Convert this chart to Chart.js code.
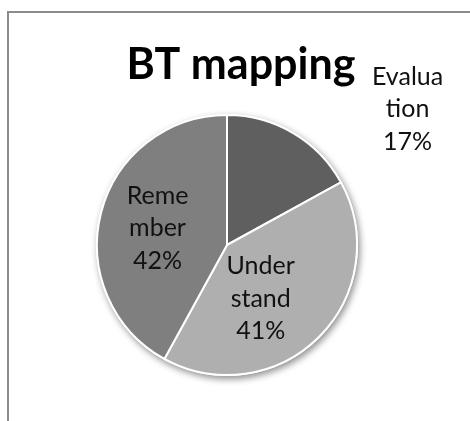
<!DOCTYPE html>
<html>
<head>
<meta charset="utf-8">
<script src="https://cdn.jsdelivr.net/npm/chart.js@4.4.1/dist/chart.umd.min.js"></script>
<style>
  html, body { margin: 0; padding: 0; background: #fff; }
  #wrap { position: relative; width: 470px; height: 421px; }
</style>
</head>
<body>
<div id="wrap"><canvas id="btChart" width="470" height="421"></canvas></div>
<script>
// data
const categories = ['Evaluation', 'Understand', 'Remember'];
const labelLines = [['Evalua', 'tion'], ['Under', 'stand'], ['Reme', 'mber']];
const shares = [17, 41, 42];
const sliceColors = ['#5f5f5f', '#afafaf', '#7f7f7f'];
const chartTitle = 'BT mapping';

// where each label sits: angle from 12 o'clock (deg) and distance as a share of the radius
const labelPlace = [
    { angle: 53.1, dist: 1.737 },
    { angle: 147.8, dist: 0.487 },
    { angle: 283.7, dist: 0.55 }
];

const framePlugin = {
    id: 'frame',
    beforeDraw(chart) {
        const c = chart.ctx;
        c.save();
        c.strokeStyle = '#8c8c8c';
        c.lineWidth = 2;
        c.beginPath();
        c.moveTo(8, 421);
        c.lineTo(8, 12);
        c.lineTo(470, 12);
        c.stroke();
        // title
        c.fillStyle = '#000';
        c.font = 'bold 43px Lato, "Open Sans", sans-serif';
        c.textAlign = 'center';
        c.textBaseline = 'alphabetic';
        c.fillText(chartTitle, 241, 79);
        c.restore();
    },
    beforeDatasetsDraw(chart) {
        // soft shadow under the pie
        const arc = chart.getDatasetMeta(0).data[0];
        if (!arc) return;
        const c = chart.ctx;
        c.save();
        c.shadowColor = 'rgba(0,0,0,0.45)';
        c.shadowBlur = 7;
        c.shadowOffsetX = 2;
        c.shadowOffsetY = 3;
        c.fillStyle = '#ffffff';
        c.beginPath();
        c.arc(arc.x, arc.y, arc.outerRadius + 1, 0, Math.PI * 2);
        c.fill();
        c.restore();
    },
    afterDatasetsDraw(chart) {
        const c = chart.ctx;
        const meta = chart.getDatasetMeta(0);
        c.save();
        c.fillStyle = '#111';
        c.font = '25px Lato, "Open Sans", sans-serif';
        c.textAlign = 'center';
        c.textBaseline = 'middle';
        meta.data.forEach((arc, i) => {
            const p = labelPlace[i];
            const a = p.angle * Math.PI / 180;
            const cx = arc.x + Math.sin(a) * arc.outerRadius * p.dist;
            const cy = arc.y - Math.cos(a) * arc.outerRadius * p.dist;
            const lines = labelLines[i].concat([shares[i] + '%']);
            lines.forEach((t, k) => {
                c.fillText(t, cx, cy + (k - 1) * 32.5);
            });
        });
        c.restore();
    }
};

new Chart(document.getElementById('btChart'), {
    type: 'pie',
    data: {
        labels: categories,
        datasets: [{
            data: shares,
            backgroundColor: sliceColors,
            borderColor: '#ffffff',
            borderWidth: 2
        }]
    },
    options: {
        responsive: false,
        animation: false,
        layout: { padding: { left: 96, right: 112, top: 114, bottom: 45 } },
        plugins: {
            legend: { display: false },
            tooltip: { enabled: false },
            title: { display: false }
        }
    },
    plugins: [framePlugin]
});
</script>
</body>
</html>
